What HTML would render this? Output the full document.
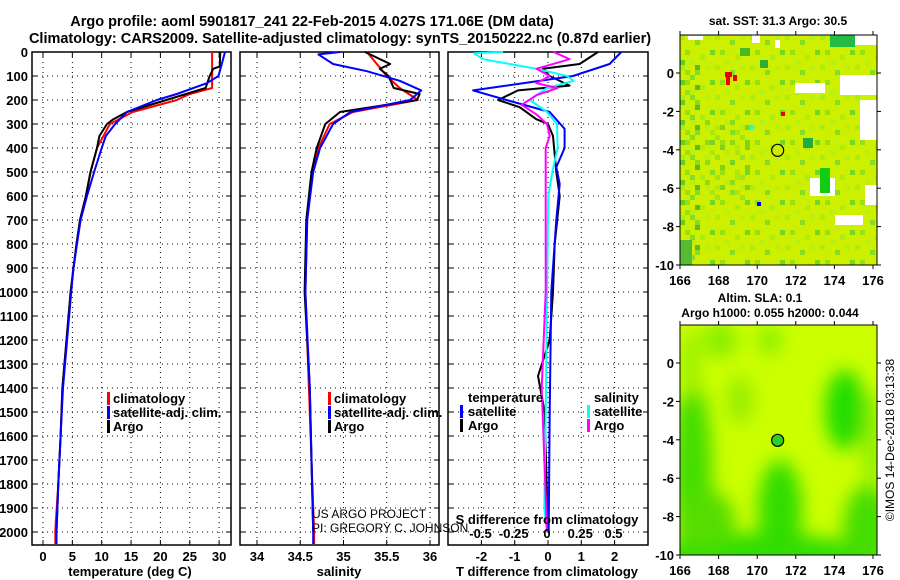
<!DOCTYPE html>
<html><head><meta charset="utf-8"><style>
body{margin:0;background:#fff;}
svg{display:block;font-family:"Liberation Sans",sans-serif;font-weight:bold;}
</style></head><body>
<svg id="c" width="900" height="580" viewBox="0 0 900 580">
<defs>
<filter id="blur" x="-50%" y="-50%" width="200%" height="200%"><feGaussianBlur stdDeviation="9"/></filter>
<clipPath id="clipSla"><rect x="680" y="325" width="197" height="230"/></clipPath>
<clipPath id="clipSst"><rect x="680" y="35" width="197" height="230"/></clipPath>
<pattern id="speck" x="680" y="35" width="35" height="30" patternUnits="userSpaceOnUse">
<rect width="35" height="30" fill="#ccf000"/>
<rect x="0" y="0" width="5" height="5" fill="#aaee11"/>
<rect x="15" y="5" width="5" height="5" fill="#88dd22"/>
<rect x="25" y="0" width="5" height="5" fill="#bbee11"/>
<rect x="5" y="15" width="5" height="5" fill="#99e011"/>
<rect x="20" y="20" width="5" height="5" fill="#aaee11"/>
<rect x="30" y="15" width="5" height="5" fill="#77d622"/>
<rect x="10" y="25" width="5" height="5" fill="#bbee11"/>
</pattern>
<pattern id="speck2" x="680" y="35" width="25" height="20" patternUnits="userSpaceOnUse">
<rect width="25" height="20" fill="none"/>
<rect x="0" y="5" width="5" height="5" fill="#66cc22"/>
<rect x="10" y="0" width="5" height="5" fill="#88dd22"/>
<rect x="15" y="10" width="5" height="5" fill="#55bb33"/>
<rect x="5" y="15" width="5" height="5" fill="#99e011"/>
</pattern>
</defs>
<text x="312" y="26" font-size="14.5" text-anchor="middle">Argo profile: aoml 5901817_241 22-Feb-2015 4.027S 171.06E (DM data)</text>
<text x="340" y="43" font-size="14.5" text-anchor="middle">Climatology: CARS2009. Satellite-adjusted climatology: synTS_20150222.nc (0.87d earlier)</text>
<g id="g"></g>
</svg>
<script>
// ---- depth axis ticks ----
const depthTicks=[0,100,200,300,400,500,600,700,800,900,1000,1100,1200,1300,1400,1500,1600,1700,1800,1900,2000];
// ---- temperature panel ----
const tempTicks=[0,5,10,15,20,25,30];
const tDepthClim=[0,150,175,200,250,300,400,500,600,700,800,900,1000,1400,1600,1800,1950,2000,2050];
const tClim=[28.8,28.8,25,22.8,15.3,11.4,9.2,8.1,7.3,6.3,5.7,5.2,4.7,3.3,3.0,2.6,2.2,2.1,2.1];
const tDepthSat=[0,100,130,175,200,250,300,350,400,500,600,700,800,900,1000,1400,1600,1800,2000,2050];
const tSat=[31,29.9,27.9,22.8,19.4,14.3,12.3,10.7,10,8.7,7.5,6.4,5.8,5.2,4.8,3.4,3.0,2.6,2.3,2.3];
const tDepthArgo=[0,60,70,100,150,200,250,280,300,350,400,500,600,700,800,900,1000,1400,1600,1800,2000];
const tArgo=[30.2,30.1,29,28.4,27.7,21,14.3,12,10.9,9.6,9.2,8.1,7.3,6.3,5.7,5.2,4.7,3.3,3.0,2.6,2.3];
// ---- salinity panel ----
const salTicks=[34,34.5,35,35.5,36];
const sDepthClim=[0,100,150,200,250,300,400,500,700,1000,1400,2000,2050];
const sClim=[35.27,35.5,35.65,35.86,35.11,34.84,34.71,34.64,34.58,34.56,34.6,34.66,34.66];
const sDepthSat=[0,10,50,80,120,160,200,250,300,400,500,700,1000,1400,2000,2050];
const sSat=[34.96,34.71,34.88,35.27,35.65,35.9,35.77,35.08,34.88,34.73,34.65,34.58,34.56,34.61,34.65,34.65];
const sDepthArgo=[0,50,70,100,150,175,200,250,300,400,500,700,1000,1400,2000];
const sArgo=[35.25,35.54,35.42,35.52,35.58,35.88,35.85,34.96,34.79,34.69,34.63,34.57,34.55,34.61,34.65];
// ---- difference panel ----
const dtTicks=[-2,-1,0,1,2];
const dsTicks=[-0.5,-0.25,0,0.25,0.5];
const dtDepthArgo=[0,50,70,100,140,160,200,230,280,300,350,500,600,800,1000,1200,1350,1500,2000];
const dtArgo=[1.5,0.95,-0.15,0.05,0.65,-0.9,-1.5,-0.85,-0.35,0,0.15,0.25,0.35,0.2,0.15,0.05,-0.3,-0.1,0];
const dtDepthSat=[0,50,100,130,160,200,250,320,400,480,550,700,1000,1500,2000];
const dtSat=[2.2,1.85,0.75,-0.75,-2.25,-1.25,0.05,0.5,0.5,0.25,0.35,0.25,0.1,0.05,0.02];
const dsDepthSat=[0,5,30,70,100,120,150,200,250,300,400,500,600,1000,1500,1900,2000];
const dsSat=[-0.33,-0.55,-0.48,-0.08,0.15,0.2,0,-0.13,0,0.075,0.08,0.04,0.01,0,-0.01,-0.02,0];
const dsDepthArgo=[0,30,70,100,130,150,180,220,260,300,350,400,1000,1400,2000];
const dsArgo=[0.05,0.17,-0.08,0.02,-0.08,0.08,-0.08,-0.19,-0.08,0,0.02,-0.01,-0.01,-0.04,0];
// ---- maps ----
const lonTicks=[166,168,170,172,174,176];
const latTicks=[0,-2,-4,-6,-8,-10];
const argoLon=[171.06];
const argoLat=[-4.027];

const NS="http://www.w3.org/2000/svg";
const G=document.getElementById('g');
function mk(tag,attrs,parent){const e=document.createElementNS(NS,tag);for(const k in attrs)e.setAttribute(k,attrs[k]);(parent||G).appendChild(e);return e;}
const yD=d=>52+d*0.24;
const TOP=52,BOT=545;

function panel(x0,x1,name){
  const r=mk('rect',{x:x0,y:TOP,width:x1-x0,height:BOT-TOP,fill:'#fff',stroke:'#000','stroke-width':1.5});
  
  
  depthTicks.forEach(d=>{
    const l=mk('line',{x1:x0,x2:x1,y1:yD(d),y2:yD(d),stroke:'#000','stroke-dasharray':'1,4','stroke-width':1});
    
    
    mk('line',{x1:x0,x2:x0+5,y1:yD(d),y2:yD(d),stroke:'#000'});
    mk('line',{x1:x1-5,x2:x1,y1:yD(d),y2:yD(d),stroke:'#000'});
  });
}
function vgrid(x,name){
  const l=mk('line',{x1:x,x2:x,y1:TOP,y2:BOT,stroke:'#000','stroke-dasharray':'1,4'});
  
  
  mk('line',{x1:x,x2:x,y1:TOP,y2:TOP+5,stroke:'#000'});
  mk('line',{x1:x,x2:x,y1:BOT-5,y2:BOT,stroke:'#000'});
}
function line(xs,ds,xf,color,name){
  const pts=xs.map((v,i)=>xf(v).toFixed(1)+','+yD(ds[i]).toFixed(1)).join(' ');
  const p=mk('polyline',{points:pts,fill:'none',stroke:color,'stroke-width':2,'stroke-linejoin':'round'});
  
  
}
function txt(x,y,s,size,anchor,name,extra){
  const t=mk('text',Object.assign({x:x,y:y,'font-size':size,'text-anchor':anchor||'start'},extra||{}));
  t.textContent=s;
  
  
  return t;
}
function legendMark(x,y,color){mk('rect',{x:x,y:y-11,width:3,height:13,fill:color});}

// Panel 1 temperature
const xT=v=>43+v*5.87;
panel(32,231,'temperature-panel');
tempTicks.forEach(v=>{vgrid(xT(v),'temperature-grid-v');txt(xT(v),561,String(v),13,'middle','temperature-tick-label');});
depthTicks.forEach(d=>txt(28,yD(d)+5,String(d),13,'end','depth-tick-label'));
line(tClim,tDepthClim,xT,'#f00','temperature-climatology-line');
line(tArgo,tDepthArgo,xT,'#000','temperature-argo-line');
line(tSat,tDepthSat,xT,'#00f','temperature-satellite-line');
txt(130,576,'temperature (deg C)',13,'middle','temperature-axis-title');
legendMark(107,403,'#f00');txt(113,403,'climatology',13,'start','legend-climatology');
legendMark(107,417,'#00f');txt(113,417,'satellite-adj. clim.',13,'start','legend-satellite-adj');
legendMark(107,431,'#000');txt(113,431,'Argo',13,'start','legend-argo');

// Panel 2 salinity
const xS=v=>257+(v-34)*86.5;
panel(240,439,'salinity-panel');
salTicks.forEach(v=>{vgrid(xS(v),'salinity-grid-v');txt(xS(v),561,String(v),13,'middle','salinity-tick-label');});
line(sClim,sDepthClim,xS,'#f00','salinity-climatology-line');
line(sArgo,sDepthArgo,xS,'#000','salinity-argo-line');
line(sSat,sDepthSat,xS,'#00f','salinity-satellite-line');
txt(339,576,'salinity',13,'middle','salinity-axis-title');
legendMark(328,403,'#f00');txt(334,403,'climatology',13,'start','legend-climatology-2');
legendMark(328,417,'#00f');txt(334,417,'satellite-adj. clim.',13,'start','legend-satellite-adj-2');
legendMark(328,431,'#000');txt(334,431,'Argo',13,'start','legend-argo-2');

// Panel 3 differences
const xDT=v=>548+v*33.3;
const xDS=v=>547+v*133;
panel(448,648,'difference-panel');
dtTicks.forEach(v=>{vgrid(xDT(v),'tdiff-grid-v');txt(xDT(v),561,String(v),13,'middle','tdiff-tick-label');});
line(dtArgo,dtDepthArgo,xDT,'#000','tdiff-argo-line');
line(dtSat,dtDepthSat,xDT,'#00f','tdiff-satellite-line');
line(dsSat,dsDepthSat,xDS,'#0ff','sdiff-satellite-line');
line(dsArgo,dsDepthArgo,xDS,'#f0f','sdiff-argo-line');
dsTicks.forEach(v=>txt(xDS(v),538,String(v),13,'middle','sdiff-tick-label'));
txt(547,524,'S difference from climatology',13,'middle','sdiff-axis-title');
txt(547,576,'T difference from climatology',13,'middle','tdiff-axis-title');
txt(468,402,'temperature',13,'start','legend-temperature-header');
legendMark(460,416,'#00f');txt(468,416,'satellite',13,'start','legend-t-satellite');
legendMark(460,430,'#000');txt(468,430,'Argo',13,'start','legend-t-argo');
txt(594,402,'salinity',13,'start','legend-salinity-header');
legendMark(587,416,'#0ff');txt(594,416,'satellite',13,'start','legend-s-satellite');
legendMark(587,430,'#f0f');txt(594,430,'Argo',13,'start','legend-s-argo');
txt(312,518,'US ARGO PROJECT',12,'start','credit-project',{'font-weight':'normal'});
txt(312,532,'PI: GREGORY C. JOHNSON',12,'start','credit-pi',{'font-weight':'normal'});

// Maps
const xL=v=>680+(v-166)*19.3;
function mapAxes(y0,name){
  const yL=v=>y0+38-v*19.2;
  lonTicks.forEach(v=>{
    mk('line',{x1:xL(v),x2:xL(v),y1:y0-4,y2:y0,stroke:'#000'});
    mk('line',{x1:xL(v),x2:xL(v),y1:y0+230,y2:y0+234,stroke:'#000'});
    txt(xL(v),y0+250,String(v),13,'middle',name+'-lon-label');
  });
  latTicks.forEach(v=>{
    mk('line',{x1:676,x2:680,y1:yL(v),y2:yL(v),stroke:'#000'});
    mk('line',{x1:877,x2:881,y1:yL(v),y2:yL(v),stroke:'#000'});
    txt(674,yL(v)+5,String(v),13,'end',name+'-lat-label');
  });
  const fr=mk('rect',{x:680,y:y0,width:197,height:230,fill:'none',stroke:'#000','stroke-width':1});
  
  
  const c=mk('circle',{cx:xL(argoLon[0]),cy:yL(argoLat[0]),r:6,fill:name==='sla-map'?'#33cc22':'none',stroke:'#000','stroke-width':1.2});
  
  
}
// SST map
const sst=mk('g',{'clip-path':'url(#clipSst)'});


mk('rect',{x:680,y:35,width:197,height:230,fill:'url(#speck)'},sst);
mk('rect',{x:680,y:60,width:25,height:205,fill:'url(#speck2)'},sst);
mk('rect',{x:705,y:120,width:50,height:80,fill:'url(#speck2)',opacity:0.6},sst);
[[850,35,27,10,'#ffffff'],[840,75,37,20,'#ffffff'],[860,100,17,40,'#ffffff'],[795,83,30,10,'#ffffff'],
 [810,178,25,18,'#ffffff'],[835,215,28,10,'#ffffff'],[865,185,12,20,'#ffffff'],[688,36,15,4,'#ffffff'],[752,35,8,8,'#ffffff'],[775,40,5,8,'#ffffff'],
 [830,35,25,12,'#22bb44'],[820,168,10,25,'#11cc11'],[803,138,10,10,'#22aa44'],[740,48,10,8,'#44bb22'],[760,60,8,8,'#33aa33'],[680,240,12,25,'#55bb33'],
 [725,72,7,5,'#ee0000'],[726,77,4,8,'#ee0000'],[733,75,4,6,'#ee0000'],[781,112,4,4,'#ee0000'],[757,202,4,4,'#0000ff'],[749,125,4,4,'#00ffff']
].forEach(r=>mk('rect',{x:r[0],y:r[1],width:r[2],height:r[3],fill:r[4]},sst));
txt(778,25,'sat. SST: 31.3 Argo: 30.5',12,'middle','sst-map-title');
mapAxes(35,'sst-map');
// SLA map
const sla=mk('g',{'clip-path':'url(#clipSla)'});


mk('rect',{x:680,y:325,width:197,height:230,fill:'#ccff00'},sla);
const bl=mk('g',{filter:'url(#blur)'},sla);
[[692,470,20,90,'#44dd00'],[760,565,120,32,'#33dd00'],[780,510,22,50,'#33dd00'],[845,410,20,40,'#22dd00'],[868,530,25,45,'#44dd00'],
 [720,340,18,18,'#88ee00'],[770,340,12,15,'#88ee00'],[740,400,14,25,'#99ee00'],[705,520,30,30,'#55dd00'],[872,440,10,50,'#88ee00'],[690,365,10,35,'#99ee00']]
.forEach(e=>mk('ellipse',{cx:e[0],cy:e[1],rx:e[2],ry:e[3],fill:e[4]},bl));
txt(760,302,'Altim. SLA: 0.1',12,'middle','sla-map-title');
txt(770,317,'Argo h1000: 0.055 h2000: 0.044',12,'middle','sla-map-subtitle');
mapAxes(325,'sla-map');
const cr=txt(894,440,'©IMOS 14-Dec-2018 03:13:38',12,'middle','timestamp-credit',{'font-weight':'normal',transform:'rotate(-90 894 440)'});
</script>
</body></html>
